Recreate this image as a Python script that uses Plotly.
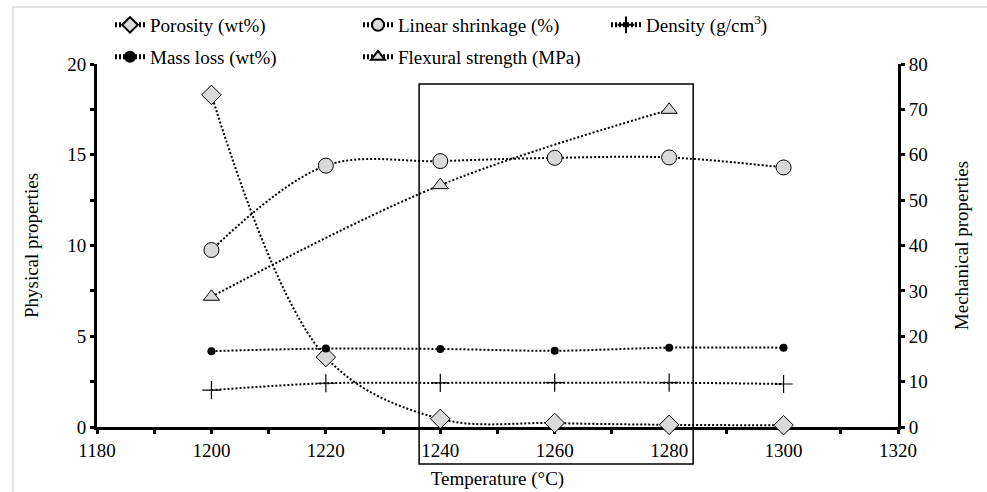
import plotly.graph_objects as go

temperature = [1200, 1220, 1240, 1260, 1280, 1300]
porosity = [18.3, 3.85, 0.45, 0.22, 0.12, 0.1]
linear_shrinkage = [9.75, 14.4, 14.65, 14.83, 14.85, 14.3]
density = [2.03, 2.41, 2.43, 2.44, 2.44, 2.37]
mass_loss = [4.18, 4.32, 4.3, 4.2, 4.37, 4.37]
flex_temperature = [1200, 1240, 1280]
flexural_strength = [28.7, 53.3, 69.9]

x_ticks = [1180, 1200, 1220, 1240, 1260, 1280, 1300, 1320]

FONT = '"Liberation Serif", "Times New Roman", serif'
GRAY = "#d9d9d9"
LINE = dict(color="black", width=2, dash="2px,2px", shape="spline")

fig = go.Figure()

fig.add_trace(go.Scatter(
    x=temperature, y=porosity, name="Porosity (wt%)", mode="lines+markers",
    line=LINE, cliponaxis=False, legend="legend",
    marker=dict(symbol="diamond", size=15, color=GRAY, line=dict(color="black", width=1))))
fig.add_trace(go.Scatter(
    x=temperature, y=linear_shrinkage, name="Linear shrinkage (%)", mode="lines+markers",
    line=LINE, cliponaxis=False, legend="legend",
    marker=dict(symbol="circle", size=15, color=GRAY, line=dict(color="black", width=1))))
fig.add_trace(go.Scatter(
    x=temperature, y=density, name="Density (g/cm<sup>3</sup>)", mode="lines+markers",
    line=LINE, cliponaxis=False, legend="legend",
    marker=dict(symbol="cross-thin", size=13, color="black", line=dict(color="black", width=1.2))))
fig.add_trace(go.Scatter(
    x=temperature, y=mass_loss, name="Mass loss (wt%)", mode="lines+markers",
    line=LINE, cliponaxis=False, legend="legend2",
    marker=dict(symbol="circle", size=8, color="black")))
fig.add_trace(go.Scatter(
    x=flex_temperature, y=flexural_strength, name="Flexural strength (MPa)", mode="lines+markers",
    line=LINE, cliponaxis=False, legend="legend2", yaxis="y2",
    marker=dict(symbol="triangle-up", size=14, color=GRAY, line=dict(color="black", width=1))))

axis_font = dict(family=FONT, size=19, color="black")
legend_common = dict(
    orientation="h", xref="container", x=110 / 987, xanchor="left",
    yref="container", yanchor="middle",
    entrywidth=203, entrywidthmode="pixels", font=dict(family=FONT, size=19, color="black"),
    bgcolor="rgba(0,0,0,0)", itemwidth=30, itemsizing="constant")

fig.update_layout(
    width=987, height=492,
    margin=dict(l=97, r=89, t=64, b=65, autoexpand=False),
    paper_bgcolor="white", plot_bgcolor="white",
    font=dict(family=FONT, size=19, color="black"),
    xaxis=dict(
        range=[1180, 1320], tickvals=x_ticks, showgrid=False, zeroline=False,
        showline=True, linecolor="black", linewidth=3, layer="below traces",
        ticks="outside", ticklen=4, tickwidth=3, tickcolor="black",
        minor=dict(dtick=10, ticks="outside", ticklen=4, tickwidth=3, tickcolor="black"),
        tickfont=axis_font,
        title=dict(text="Temperature (°C)", font=axis_font, standoff=12)),
    yaxis=dict(
        range=[0, 20], dtick=5, showgrid=False, zeroline=False,
        showline=True, linecolor="black", linewidth=3, layer="below traces",
        ticks="outside", ticklen=4, tickwidth=3, tickcolor="black",
        minor=dict(dtick=2.5, ticks="outside", ticklen=4, tickwidth=3, tickcolor="black"),
        tickfont=axis_font,
        title=dict(text="Physical properties", font=axis_font, standoff=24)),
    yaxis2=dict(
        range=[0, 80], dtick=10, overlaying="y", side="right", showgrid=False, zeroline=False,
        showline=True, linecolor="black", linewidth=3, layer="below traces",
        ticks="outside", ticklen=4, tickwidth=3, tickcolor="black",
        tickfont=axis_font,
        title=dict(text="Mechanical properties", font=axis_font, standoff=28)),
    legend=dict(legend_common, y=1 - 25 / 492),
    legend2=dict(legend_common, y=1 - 57 / 492),
    shapes=[
        dict(type="rect", xref="x", yref="paper", x0=1236.3, x1=1284.2, y0=-0.102, y1=0.945,
             line=dict(color="black", width=1.5), fillcolor="rgba(0,0,0,0)", layer="above"),
        dict(type="line", xref="paper", yref="paper", x0=-0.105, x1=1.12, y0=1.157, y1=1.157,
             line=dict(color=GRAY, width=1.5)),
        dict(type="line", xref="paper", yref="paper", x0=-0.105, x1=-0.105, y0=1.157, y1=-0.2,
             line=dict(color=GRAY, width=1.5)),
    ],
)

fig.write_html("out.html", config={"displayModeBar": False},
               post_script="document.body.style.margin='0';")
